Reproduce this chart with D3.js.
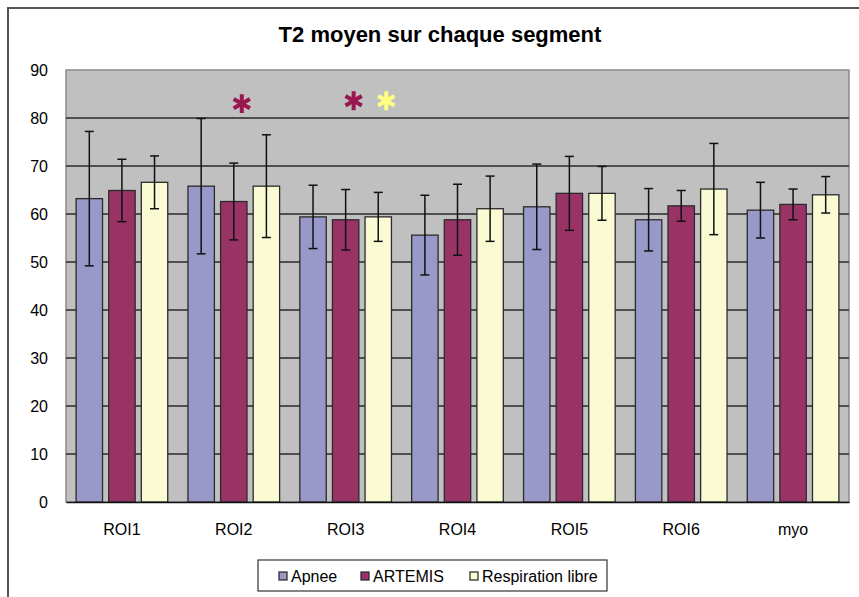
<!DOCTYPE html>
<html>
<head>
<meta charset="utf-8">
<script src="https://cdn.jsdelivr.net/npm/d3@7"></script>
<style>
  html, body { margin: 0; padding: 0; background: #ffffff; }
  svg { display: block; font-family: Arial, "Liberation Sans", sans-serif; }
</style>
</head>
<body>
<svg id="chart" width="859" height="597"></svg>
<script>
// Mean T2 per segment and its standard deviation, for each acquisition mode
const categories = ["ROI1", "ROI2", "ROI3", "ROI4", "ROI5", "ROI6", "myo"];
const seriesNames = ["Apnee", "ARTEMIS", "Respiration libre"];

const apneeMean   = [63.2, 65.8, 59.4, 55.6, 61.5, 58.8, 60.8];
const apneeSD     = [14.0, 14.1, 6.6, 8.3, 8.9, 6.5, 5.8];
const artemisMean = [64.9, 62.6, 58.8, 58.8, 64.3, 61.7, 62.0];
const artemisSD   = [6.5, 8.0, 6.3, 7.4, 7.7, 3.2, 3.2];
const respMean    = [66.6, 65.8, 59.4, 61.1, 64.3, 65.2, 64.0];
const respSD      = [5.5, 10.7, 5.1, 6.8, 5.6, 9.5, 3.8];

const yTicks = [0, 10, 20, 30, 40, 50, 60, 70, 80, 90];

// Significance markers (segment, series, height on the T2 axis)
const markerCategory = ["ROI2", "ROI3", "ROI3"];
const markerSeries   = ["ARTEMIS", "ARTEMIS", "Respiration libre"];
const markerLevel    = [83, 83.6, 83.6];

const fills = { "Apnee": "#9898C9", "ARTEMIS": "#993366", "Respiration libre": "#FBFBD3" };
const markerColors = { "ARTEMIS": "#99164F", "Respiration libre": "#FFFF80" };

const means = { "Apnee": apneeMean, "ARTEMIS": artemisMean, "Respiration libre": respMean };
const sds   = { "Apnee": apneeSD,   "ARTEMIS": artemisSD,   "Respiration libre": respSD };

const rows = [];
categories.forEach((c, i) => {
  seriesNames.forEach(s => rows.push({ cat: c, series: s, mean: means[s][i], sd: sds[s][i] }));
});

const svg = d3.select("#chart");
const plot = { left: 66, right: 849, top: 70, bottom: 502 };

const x = d3.scaleBand().domain(categories).range([plot.left, plot.right]).paddingInner(0).paddingOuter(0);
const xs = d3.scaleBand().domain(seriesNames).range([0, x.bandwidth()]).paddingInner(0.19).paddingOuter(0.31);
const y = d3.scaleLinear().domain([0, 90]).range([plot.bottom, plot.top]);

// outer chart frame
svg.append("rect")
  .attr("x", 8).attr("y", 8).attr("width", 900).attr("height", 700)
  .attr("fill", "#ffffff").attr("stroke", "#555555").attr("stroke-width", 2);

// title
svg.append("text")
  .attr("x", 440).attr("y", 42)
  .attr("text-anchor", "middle")
  .attr("font-size", 22).attr("font-weight", "bold")
  .attr("fill", "#000")
  .text("T2 moyen sur chaque segment");

// plot background
svg.append("rect")
  .attr("x", plot.left).attr("y", plot.top)
  .attr("width", plot.right - plot.left).attr("height", plot.bottom - plot.top)
  .attr("fill", "#C0C0C0").attr("stroke", "#8a8a8a").attr("stroke-width", 1.5);

// horizontal gridlines
svg.append("g")
  .selectAll("line")
  .data(yTicks.filter(t => t > 0 && t < 90))
  .join("line")
  .attr("x1", plot.left).attr("x2", plot.right)
  .attr("y1", d => y(d)).attr("y2", d => y(d))
  .attr("stroke", "#2a2a2a").attr("stroke-width", 1.3);

// y axis labels
const yAxis = d3.axisLeft(y).tickValues(yTicks).tickSize(0).tickPadding(18);
const yg = svg.append("g").attr("transform", `translate(${plot.left},0)`).call(yAxis);
yg.select(".domain").remove();
yg.selectAll("text").attr("font-size", 16).attr("fill", "#000").attr("font-family", "Arial, 'Liberation Sans', sans-serif");

// bars
const groups = svg.append("g");
groups.selectAll("rect")
  .data(rows)
  .join("rect")
  .attr("x", d => x(d.cat) + xs(d.series))
  .attr("y", d => y(d.mean))
  .attr("width", xs.bandwidth())
  .attr("height", d => y(0) - y(d.mean))
  .attr("fill", d => fills[d.series])
  .attr("stroke", "#2b2b2b").attr("stroke-width", 1.3);

// error bars
const capHalf = 4.5;
const eb = svg.append("g").attr("stroke", "#111").attr("stroke-width", 1.5);
rows.forEach(d => {
  const cx = x(d.cat) + xs(d.series) + xs.bandwidth() / 2;
  const yt = y(d.mean + d.sd), yb = y(d.mean - d.sd);
  eb.append("line").attr("x1", cx).attr("x2", cx).attr("y1", yt).attr("y2", yb);
  eb.append("line").attr("x1", cx - capHalf).attr("x2", cx + capHalf).attr("y1", yt).attr("y2", yt);
  eb.append("line").attr("x1", cx - capHalf).attr("x2", cx + capHalf).attr("y1", yb).attr("y2", yb);
});

// x axis line and labels
const xAxis = d3.axisBottom(x).tickSize(0).tickPadding(22);
const xg = svg.append("g").attr("transform", `translate(0,${plot.bottom})`).call(xAxis);
xg.select(".domain").attr("stroke", "#111").attr("stroke-width", 1.6);
xg.selectAll("text").attr("font-size", 16).attr("fill", "#000").attr("font-family", "Arial, 'Liberation Sans', sans-serif");

// significance asterisks
const star = d3.symbol().type(d3.symbolAsterisk).size(250);
markerCategory.forEach((c, i) => {
  const s = markerSeries[i];
  const cx = x(c) + xs(s) + xs.bandwidth() / 2 + 8;
  svg.append("path")
    .attr("d", star())
    .attr("transform", `translate(${cx},${y(markerLevel[i])})`)
    .attr("fill", "none")
    .attr("stroke", markerColors[s])
    .attr("stroke-width", 4);
});

// legend
const legend = svg.append("g");
legend.append("rect")
  .attr("x", 258).attr("y", 560).attr("width", 349).attr("height", 31)
  .attr("fill", "#fff").attr("stroke", "#333").attr("stroke-width", 1.2);
const legendX = [279, 361, 470];
seriesNames.forEach((s, i) => {
  legend.append("rect")
    .attr("x", legendX[i]).attr("y", 572).attr("width", 8).attr("height", 8)
    .attr("fill", fills[s]).attr("stroke", "#222").attr("stroke-width", 1.2);
  legend.append("text")
    .attr("x", legendX[i] + 12).attr("y", 582)
    .attr("font-size", 16).attr("fill", "#000")
    .text(s);
});
</script>
</body>
</html>
